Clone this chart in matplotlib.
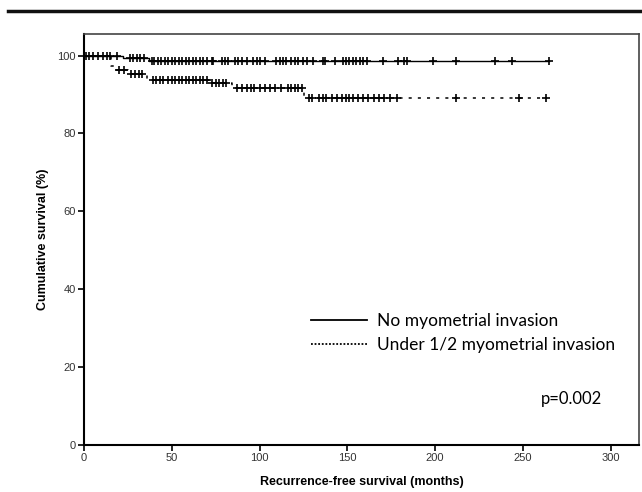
import numpy as np
import matplotlib
matplotlib.use("Agg")
import matplotlib.pyplot as plt
from matplotlib.lines import Line2D

# Kaplan-Meier steps (months, % surviving)
no_inv_times = [0, 22, 37, 265]
no_inv_surv = [100, 99.4, 98.6, 98.6]
no_inv_censor = [1, 3, 5, 8, 11, 13, 15, 19, 26, 28, 30, 32, 34, 38.5, 40, 42, 44,
                 46, 48, 50, 52, 54, 56, 58, 60, 62, 64, 66, 68, 70, 72.7, 73.6,
                 78.4, 80.3, 82.2, 86, 87.8, 89.8, 92.6, 96.4, 98.3, 100.2, 103,
                 109.6, 111.5, 113.4, 115.3, 118.1, 120, 121.9, 124.8, 126.7,
                 130.5, 136.2, 137.1, 142.8, 147.6, 149, 151, 153, 155, 157, 159,
                 161, 170, 179, 182, 184, 199, 212, 234, 244, 265]

under_times = [0, 15.5, 17.5, 25, 36, 71, 84, 125, 263]
under_surv = [100, 97.4, 96.3, 95.3, 93.8, 93.0, 91.7, 89.2, 89.2]
under_censor = [20, 23, 27, 29, 31, 33, 39, 41, 43, 45, 48, 50, 52, 54, 56, 58, 60,
                62, 64, 66, 68, 70, 73, 75, 77, 79, 81, 87, 90, 93, 95, 97, 100,
                103, 106, 109, 112, 116, 118, 120, 122, 124, 128, 130, 134, 136,
                138, 141, 144, 147, 149, 151, 153, 156, 159, 162, 165, 168, 171,
                174, 178, 212, 248, 263]

labels = ["No myometrial invasion", "Under 1/2 myometrial invasion"]
p_text = "p=0.002"


def surv_at(times, surv, t):
    idx = np.searchsorted(times, t, side="right") - 1
    return np.asarray(surv)[idx]


fig = plt.figure(figsize=(6.42, 4.92), dpi=100)
ax = fig.add_axes([0.131, 0.0955, 0.864, 0.836])

ax.step(no_inv_times, no_inv_surv, where="post", color="black", lw=1.0)
ax.plot(no_inv_censor, surv_at(no_inv_times, no_inv_surv, no_inv_censor),
        ls="none", marker="+", ms=6, mew=1.2, color="black")

ax.step(under_times, under_surv, where="post", color="black", lw=1.1,
        ls=(0, (2, 4)))
ax.plot(under_censor, surv_at(under_times, under_surv, under_censor),
        ls="none", marker="+", ms=6, mew=1.2, color="black")

ax.set_xlim(0, 316)
ax.set_ylim(0, 105.6)
ax.set_xticks([0, 50, 100, 150, 200, 250, 300])
ax.set_yticks([0, 20, 40, 60, 80, 100])
ax.tick_params(labelsize=8, labelcolor="#333333", length=4, width=1.2,
               direction="out", pad=2)
for side in ["left", "bottom"]:
    ax.spines[side].set_linewidth(1.5)
for side in ["top", "right"]:
    ax.spines[side].set_linewidth(1.2)
    ax.spines[side].set_color("#444444")

ax.set_xlabel("Recurrence-free survival (months)", fontsize=9,
              fontweight="bold", family="Liberation Sans", labelpad=9)
ax.set_ylabel("Cumulative survival (%)", fontsize=9, fontweight="bold",
              family="Liberation Sans", labelpad=6)
for lbl in ax.get_xticklabels() + ax.get_yticklabels():
    lbl.set_family("Liberation Sans")

handles = [Line2D([], [], color="black", lw=1.3),
           Line2D([], [], color="black", lw=1.3, ls=(0, (1, 1)))]
ax.legend(handles, labels, loc="upper left", bbox_to_anchor=(0.409, 0.32),
          frameon=False, prop={"family": "Lato", "size": 12.5},
          handlelength=3.2, handletextpad=0.6, labelspacing=0.42,
          borderaxespad=0, borderpad=0)

ax.text(0.933, 0.112, p_text, transform=ax.transAxes, ha="right",
        va="center", fontsize=12, family="Lato")

# rule across the top of the figure
fig.add_artist(Line2D([0.012, 1.0], [0.978, 0.978], color="#111111", lw=2.5))

fig.savefig("out.png", dpi=100)
